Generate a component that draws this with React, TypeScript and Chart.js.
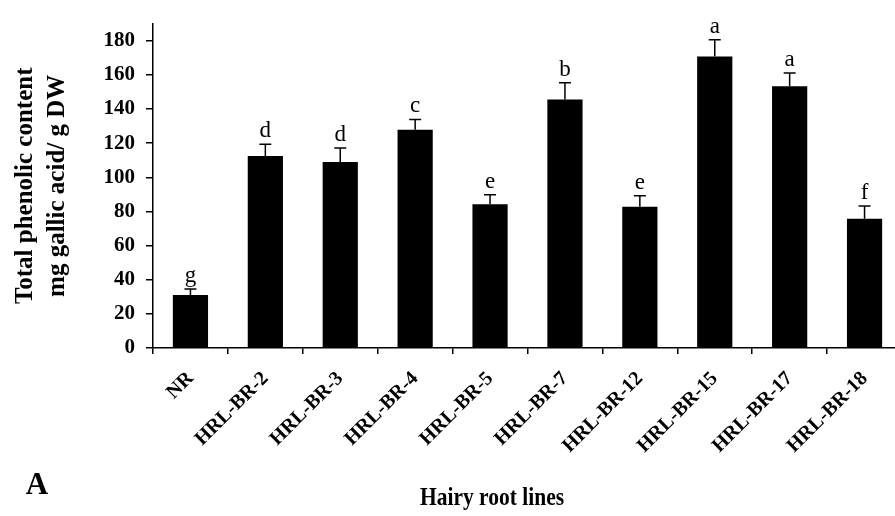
import React, { useEffect, useRef } from "react";
import { Chart, registerables } from "chart.js";

Chart.register(...registerables);

const categories = ["NR", "HRL-BR-2", "HRL-BR-3", "HRL-BR-4", "HRL-BR-5", "HRL-BR-7", "HRL-BR-12", "HRL-BR-15", "HRL-BR-17", "HRL-BR-18"];
const means = [31.1, 112.4, 108.9, 127.8, 84.2, 145.5, 82.7, 170.8, 153.3, 75.7];
const errors = [3.5, 7.0, 8.2, 6.1, 5.5, 9.8, 6.4, 9.8, 7.8, 7.5];
const letters = ["g", "d", "d", "c", "e", "b", "e", "a", "a", "f"];
const yTicks = [0, 20, 40, 60, 80, 100, 120, 140, 160, 180];
const yTitleLines = ["Total phenolic content", "mg gallic acid/ g DW"];
const xTitle = "Hairy root lines";
const panelLabel = "A";

const SERIF = "'Times New Roman', 'Liberation Serif', serif";

const overlayPlugin = {
  id: "overlay",
  afterDatasetsDraw(chart: any) {
    const ctx = chart.ctx;
    const x = chart.scales.x;
    const y = chart.scales.y;
    ctx.save();
    ctx.strokeStyle = "#000";
    ctx.fillStyle = "#000";
    ctx.lineWidth = 1.5;
    means.forEach((m, i) => {
      const cx = x.getPixelForValue(i);
      const yTop = y.getPixelForValue(m + errors[i]);
      const yBar = y.getPixelForValue(m);
      ctx.beginPath();
      ctx.moveTo(cx, yBar);
      ctx.lineTo(cx, yTop);
      ctx.moveTo(cx - 6, yTop);
      ctx.lineTo(cx + 6, yTop);
      ctx.stroke();
      ctx.font = `23px ${SERIF}`;
      ctx.textAlign = "center";
      ctx.textBaseline = "alphabetic";
      ctx.fillText(letters[i], cx, yTop - 7);
    });
    ctx.restore();
  },
  afterDraw(chart: any) {
    const ctx = chart.ctx;
    const area = chart.chartArea;
    const midY = (area.top + area.bottom) / 2;
    ctx.save();
    ctx.fillStyle = "#000";
    ctx.font = `bold 25px ${SERIF}`;
    ctx.textAlign = "center";
    ctx.textBaseline = "alphabetic";
    ctx.translate(0, midY);
    ctx.rotate(-Math.PI / 2);
    ctx.fillText(yTitleLines[0], 0, 32);
    ctx.fillText(yTitleLines[1], 0, 64);
    ctx.restore();

    ctx.save();
    ctx.fillStyle = "#000";
    ctx.font = `bold 25px ${SERIF}`;
    ctx.textAlign = "center";
    ctx.textBaseline = "alphabetic";
    ctx.translate(492, 505);
    ctx.scale(0.86, 1);
    ctx.fillText(xTitle, 0, 0);
    ctx.restore();

    ctx.save();
    ctx.fillStyle = "#000";
    ctx.font = `bold 31px ${SERIF}`;
    ctx.textAlign = "center";
    ctx.textBaseline = "alphabetic";
    ctx.fillText(panelLabel, 37, 494);
    ctx.restore();
  },
};

export default function App() {
  const ref = useRef<HTMLCanvasElement | null>(null);
  useEffect(() => {
    if (!ref.current) return;
    const chart = new Chart(ref.current, {
      type: "bar",
      data: {
        labels: categories,
        datasets: [
          {
            data: means,
            backgroundColor: "#000",
            borderWidth: 0,
            barPercentage: 0.47,
            categoryPercentage: 1,
          },
        ],
      },
      options: {
        animation: false,
        responsive: false,
        devicePixelRatio: 1,
        layout: { padding: { left: 0, right: 8, top: 23, bottom: 0 } },
        plugins: { legend: { display: false }, tooltip: { enabled: false } },
        scales: {
          x: {
            grid: { display: true, drawOnChartArea: false, drawTicks: true, tickLength: 6, color: "#000", lineWidth: 1.5, offset: true },
            border: { color: "#000", width: 1.5 },
            ticks: {
              color: "#000",
              font: { family: SERIF, size: 20, weight: "bold" },
              maxRotation: 45,
              minRotation: 45,
              padding: 13,
              autoSkip: false,
            },
            afterFit: (s: any) => {
              s.height = 168;
            },
          },
          y: {
            min: 0,
            max: 190,
            grid: { display: true, drawOnChartArea: false, drawTicks: true, tickLength: 7, color: "#000", lineWidth: 1.5 },
            border: { color: "#000", width: 1.5 },
            ticks: {
              color: "#000",
              font: { family: SERIF, size: 21, weight: "bold" },
              padding: 11,
              stepSize: 20,
            },
            afterBuildTicks: (s: any) => {
              s.ticks = yTicks.map((v) => ({ value: v }));
            },
            afterFit: (s: any) => {
              s.width = 153;
            },
          },
        },
      },
      plugins: [overlayPlugin],
    });
    return () => chart.destroy();
  }, []);
  return (
    <canvas
      ref={ref}
      width={910}
      height={516}
      style={{ position: "fixed", left: 0, top: 0, display: "block", background: "#fff" }}
    />
  );
}
